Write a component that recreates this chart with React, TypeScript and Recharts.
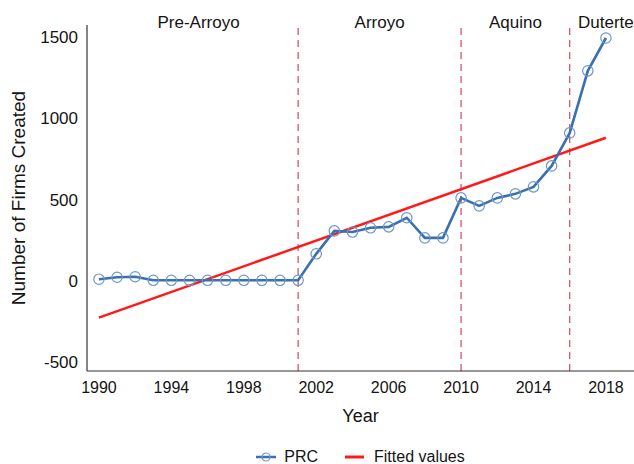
import React from 'react';
import {
  ComposedChart, Line, XAxis, YAxis, ReferenceLine, ReferenceDot, Legend,
} from 'recharts';

const years = [1990, 1991, 1992, 1993, 1994, 1995, 1996, 1997, 1998, 1999, 2000, 2001, 2002, 2003, 2004, 2005, 2006, 2007, 2008, 2009, 2010, 2011, 2012, 2013, 2014, 2015, 2016, 2017, 2018];
const prc = [10, 22, 25, 3, 3, 3, 3, 3, 3, 3, 3, 3, 166, 307, 300, 326, 332, 388, 264, 264, 510, 461, 510, 535, 578, 707, 910, 1292, 1494];
const fittedYears = [1990, 2018];
const fittedValues = [-227, 880];
const xTicks = [1990, 1994, 1998, 2002, 2006, 2010, 2014, 2018];
const yTicks = [-500, 0, 500, 1000, 1500];
const breakYears = [2001, 2010, 2016];
const periodNames = ['Pre-Arroyo', 'Arroyo', 'Aquino', 'Duterte'];
const periodCenters = [1995.5, 2005.5, 2013, 2018];

const prcData = years.map((y, i) => ({ year: y, prc: prc[i] }));
const fitData = fittedYears.map((y, i) => ({ year: y, fit: fittedValues[i] }));

const FONT = '"Liberation Sans", Arial, sans-serif';
const TEXT = '#141414';
const BLUE = '#3a6fb0';
const MARK = '#6c97c9';
const RED = '#ff1a1a';
const DASH = '#cf4a5c';

const YLabel = (props: any) => {
  const vb = props.viewBox || {};
  const cy = vb.y + vb.height / 2;
  return (
    <text x={18} y={cy} transform={`rotate(-90 18 ${cy})`} textAnchor="middle" dominantBaseline="central"
      fontFamily={FONT} fontSize={19} fill={TEXT}>Number of Firms Created</text>
  );
};

const LegendContent = () => (
  <div style={{ display: 'flex', justifyContent: 'center', alignItems: 'center', height: 20, fontFamily: FONT, fontSize: 16, color: TEXT }}>
    <svg width={20} height={12} style={{ marginRight: 8 }}>
      <line x1={0} y1={6} x2={20} y2={6} stroke={BLUE} strokeWidth={2.5} />
      <circle cx={10} cy={6} r={4} fill="none" stroke={MARK} strokeWidth={1.2} />
    </svg>
    <span style={{ marginRight: 27 }}>PRC</span>
    <svg width={19} height={12} style={{ marginRight: 10 }}>
      <line x1={0} y1={6} x2={19} y2={6} stroke={RED} strokeWidth={3} />
    </svg>
    <span>Fitted values</span>
  </div>
);

export default function App() {
  return (
    <div style={{ position: 'absolute', left: 0, top: 0, width: 634, height: 464, background: '#fff' }}>
      <ComposedChart width={634} height={464} margin={{ top: 25, right: 0, bottom: 23, left: 0 }}>
        <XAxis
          type="number" dataKey="year" domain={[1989.34, 2019.55]} ticks={xTicks} allowDataOverflow
          tickLine={false} tickMargin={5} axisLine={{ stroke: '#333', strokeWidth: 1.2 }} height={50}
          tick={{ fontFamily: FONT, fontSize: 16, fill: TEXT }}
          label={{ value: 'Year', position: 'insideBottom', offset: -1, style: { fontFamily: FONT, fontSize: 18, fill: TEXT } }}
        />
        <YAxis
          type="number" domain={[-555, 1574]} ticks={yTicks} allowDataOverflow width={87}
          tickLine={false} tickMargin={3} axisLine={{ stroke: '#333', strokeWidth: 1.2 }}
          tick={{ fontFamily: FONT, fontSize: 17, fill: TEXT }}
          label={<YLabel />}
        />
        {breakYears.map((b) => (
          <ReferenceLine key={b} x={b} stroke={DASH} strokeWidth={1.2} strokeDasharray="7 5" />
        ))}
        {periodNames.map((n, i) => (
          <ReferenceDot key={n} x={periodCenters[i]} y={1590} r={0} fill="none" stroke="none" ifOverflow="visible"
            label={{ value: n, position: 'center', style: { fontFamily: FONT, fontSize: 17, fill: TEXT } }} />
        ))}
        <Line data={fitData} dataKey="fit" stroke={RED} strokeWidth={2.5} dot={false} isAnimationActive={false} name="Fitted values" />
        <Line data={prcData} dataKey="prc" stroke={BLUE} strokeWidth={2.6} isAnimationActive={false} name="PRC"
          dot={{ r: 5.2, fill: 'none', stroke: MARK, strokeWidth: 1.2 }} />
        <Legend verticalAlign="bottom" content={<LegendContent />} wrapperStyle={{ top: 447, bottom: 'auto', left: 87, width: 547 }} />
      </ComposedChart>
    </div>
  );
}
